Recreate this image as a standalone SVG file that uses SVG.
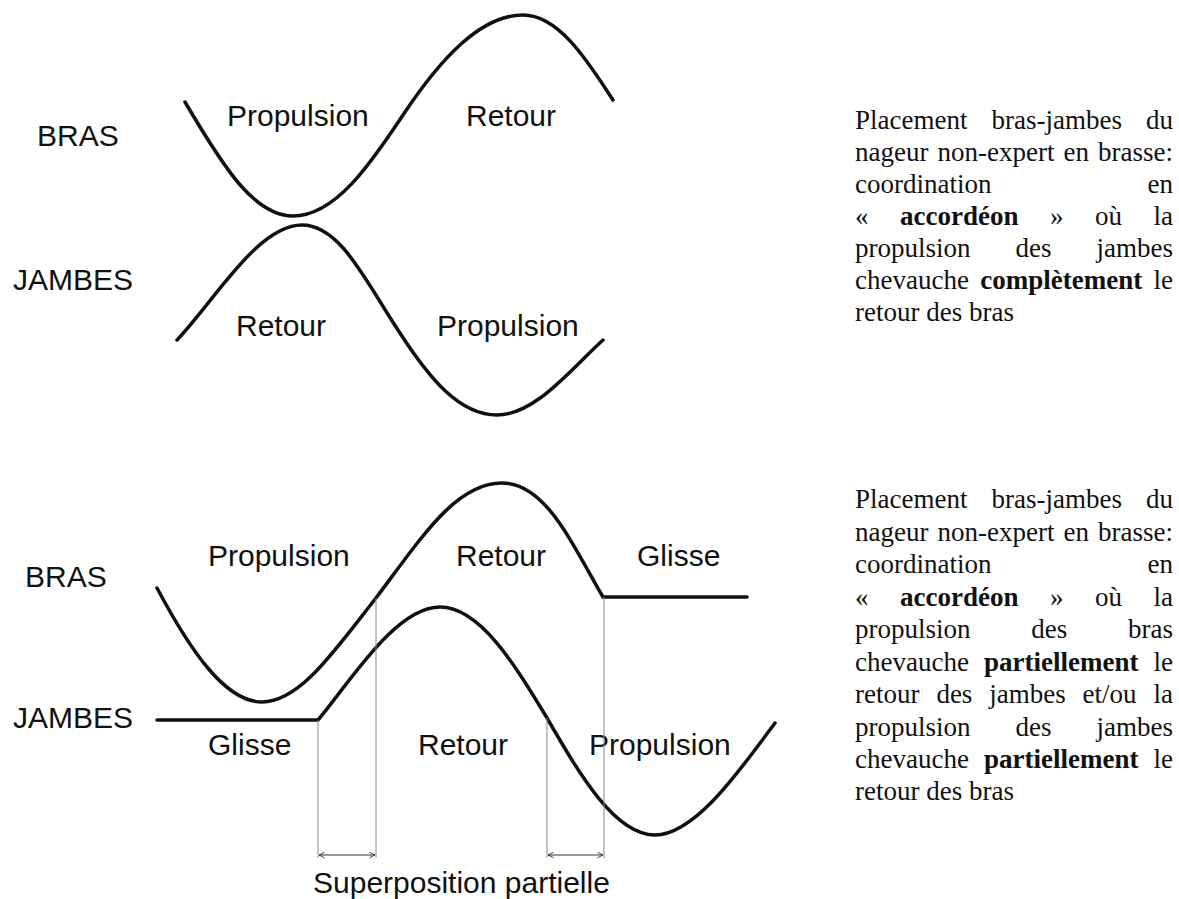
<svg xmlns="http://www.w3.org/2000/svg" width="1179" height="899" viewBox="0 0 1179 899">
  <defs>
    <marker id="tick" viewBox="0 0 10 10" refX="9" refY="5" markerWidth="7" markerHeight="7" orient="auto-start-reverse" markerUnits="userSpaceOnUse">
      <path d="M1,1 L9,5 L1,9" fill="none" stroke="#333" stroke-width="1.3"/>
    </marker>
  </defs>
  <style>
    .lbl { font-family: "Liberation Sans", Arial, sans-serif; font-size: 30px; fill: #111; }
    .note { font-family: "Liberation Serif", "Times New Roman", serif; font-size: 27px; fill: #111; }
    .b { font-weight: bold; }
    .e { text-anchor: end; }
    .curve { fill: none; stroke: #111; stroke-width: 3.5; stroke-linecap: round; stroke-linejoin: miter; }
    .guide { fill: none; stroke: #8a8a8a; stroke-width: 1; }
    .span { fill: none; stroke: #333; stroke-width: 1.2; }
  </style>
  <rect width="1179" height="899" fill="#ffffff"/>

  <!-- Upper chart: full overlap -->
  <g id="top-labels">
    <text class="lbl" x="37" y="146">BRAS</text>
    <text class="lbl" x="13" y="290">JAMBES</text>
  </g>
  <g id="top-bras">
    <path class="curve" d="M185,102 C225,170 255,216 293,216 C335,216 370,165 405,112 C440,60 480,15 523,15 C560,15 590,65 613,100"/>
    <text class="lbl" x="227" y="126">Propulsion</text>
    <text class="lbl" x="466" y="126">Retour</text>
  </g>
  <g id="top-jambes">
    <path class="curve" d="M177,340 C215,300 258,225 302,225 C340,225 365,280 398,330 C430,380 460,415 497,415 C535,415 570,370 603,340"/>
    <text class="lbl" x="236" y="336">Retour</text>
    <text class="lbl" x="437" y="336">Propulsion</text>
  </g>

  <!-- Lower chart: partial overlap -->
  <g id="bottom-labels">
    <text class="lbl" x="25" y="587">BRAS</text>
    <text class="lbl" x="13" y="728">JAMBES</text>
  </g>
  <g id="bottom-bras">
    <path class="curve" d="M157,588 C190,650 225,702 262,702 C300,702 335,650 376,598 C420,540 455,483 502,483 C545,483 570,540 603,597 L747,597"/>
    <text class="lbl" x="208" y="566">Propulsion</text>
    <text class="lbl" x="456" y="566">Retour</text>
    <text class="lbl" x="637" y="566">Glisse</text>
  </g>
  <g id="bottom-jambes">
    <path class="curve" d="M157,720 L318,720 C348,685 395,607 440,607 C480,607 515,665 547,718 C580,775 615,835 655,835 C695,835 740,770 775,723"/>
    <text class="lbl" x="208" y="755">Glisse</text>
    <text class="lbl" x="418" y="755">Retour</text>
    <text class="lbl" x="589" y="755">Propulsion</text>
  </g>

  <!-- Overlap guides and spans -->
  <g id="connectors">
    <line class="guide" x1="318" y1="720" x2="318" y2="858"/>
    <line class="guide" x1="376" y1="598" x2="376" y2="858"/>
    <line class="guide" x1="547" y1="718" x2="547" y2="858"/>
    <line class="guide" x1="604" y1="597" x2="604" y2="858"/>
    <line class="span" x1="319" y1="855" x2="375" y2="855" marker-start="url(#tick)" marker-end="url(#tick)"/>
    <line class="span" x1="548" y1="855" x2="603" y2="855" marker-start="url(#tick)" marker-end="url(#tick)"/>
  </g>
  <g id="overlap-caption">
    <text class="lbl" x="313" y="893">Superposition partielle</text>
  </g>

  <!-- Caption for the upper chart (justified by hand) -->
  <g id="note-top" class="note">
    <text x="855" y="129">Placement</text>
    <text x="991.5" y="129">bras-jambes</text>
    <text class="e" x="1173" y="129">du</text>

    <text x="855" y="161">nageur</text>
    <text x="937.5" y="161">non-expert</text>
    <text x="1063.5" y="161">en</text>
    <text class="e" x="1173" y="161">brasse:</text>

    <text x="855" y="193">coordination</text>
    <text class="e" x="1173" y="193">en</text>

    <text x="855" y="225">«</text>
    <text class="b" x="900" y="225">accordéon</text>
    <text x="1050" y="225">»</text>
    <text x="1095" y="225">où</text>
    <text class="e" x="1173" y="225">la</text>

    <text x="855" y="257">propulsion</text>
    <text x="1015.5" y="257">des</text>
    <text class="e" x="1173" y="257">jambes</text>

    <text x="855" y="289">chevauche</text>
    <text class="b" x="980.3" y="289">complètement</text>
    <text class="e" x="1173" y="289">le</text>

    <text x="855" y="321">retour des bras</text>
  </g>

  <!-- Caption for the lower chart (justified by hand) -->
  <g id="note-bottom" class="note">
    <text x="855" y="508">Placement</text>
    <text x="991.5" y="508">bras-jambes</text>
    <text class="e" x="1173" y="508">du</text>

    <text x="855" y="540.5">nageur</text>
    <text x="937.5" y="540.5">non-expert</text>
    <text x="1063.5" y="540.5">en</text>
    <text class="e" x="1173" y="540.5">brasse:</text>

    <text x="855" y="573">coordination</text>
    <text class="e" x="1173" y="573">en</text>

    <text x="855" y="605.5">«</text>
    <text class="b" x="900" y="605.5">accordéon</text>
    <text x="1050" y="605.5">»</text>
    <text x="1095" y="605.5">où</text>
    <text class="e" x="1173" y="605.5">la</text>

    <text x="855" y="638">propulsion</text>
    <text x="1031.3" y="638">des</text>
    <text class="e" x="1173" y="638">bras</text>

    <text x="855" y="670.5">chevauche</text>
    <text class="b" x="984" y="670.5">partiellement</text>
    <text class="e" x="1173" y="670.5">le</text>

    <text x="855" y="703">retour</text>
    <text x="936.4" y="703">des</text>
    <text x="989.3" y="703">jambes</text>
    <text x="1082.6" y="703">et/ou</text>
    <text class="e" x="1173" y="703">la</text>

    <text x="855" y="735.5">propulsion</text>
    <text x="1015.5" y="735.5">des</text>
    <text class="e" x="1173" y="735.5">jambes</text>

    <text x="855" y="768">chevauche</text>
    <text class="b" x="984" y="768">partiellement</text>
    <text class="e" x="1173" y="768">le</text>

    <text x="855" y="800">retour des bras</text>
  </g>
</svg>
